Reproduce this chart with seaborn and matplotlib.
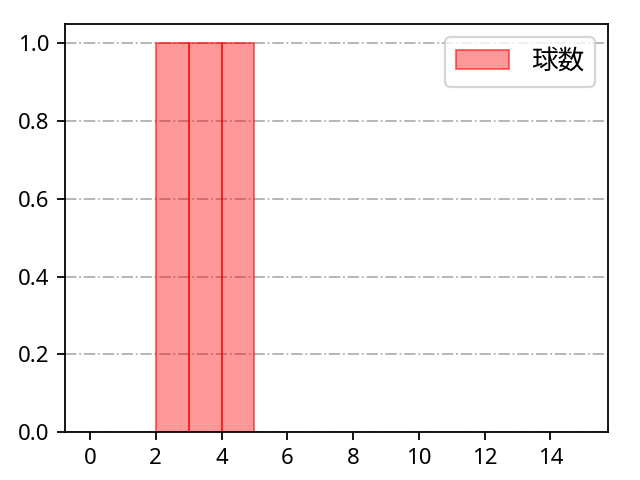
import matplotlib as mpl
mpl.use('Agg')

import matplotlib.pyplot as plt
import seaborn as sns
import numpy as np
import pandas as pd

plt.rcParams['font.family'] = ['Noto Sans', 'Noto Sans CJK JP']

# pitch values (one per pitch) and histogram bins
values = [2, 3, 4]
bin_edges = list(range(0, 16))
label = "球数"

df = pd.DataFrame({"v": values})

fig, ax = plt.subplots(figsize=(4, 3), dpi=160)
fig.subplots_adjust(left=0.102, right=0.95, top=0.95, bottom=0.1)

sns.histplot(data=df, x="v", bins=bin_edges, stat="count", ax=ax,
             color="red", alpha=0.4, edgecolor=(1, 0, 0, 0.6), linewidth=0.8,
             label=label)

# drop the empty bins so no edge line is drawn along the baseline
for p in list(ax.patches):
    if p.get_height() == 0:
        p.remove()

ax.set_xticks(np.arange(0, 15, 2))
ax.set_xlabel("")
ax.set_ylabel("")
ax.grid(axis="y", linestyle="-.", color="#b0b0b0", linewidth=0.8)
ax.set_axisbelow(True)
ax.legend(loc="upper right", fontsize=12)

plt.savefig("out.png", dpi=160)
